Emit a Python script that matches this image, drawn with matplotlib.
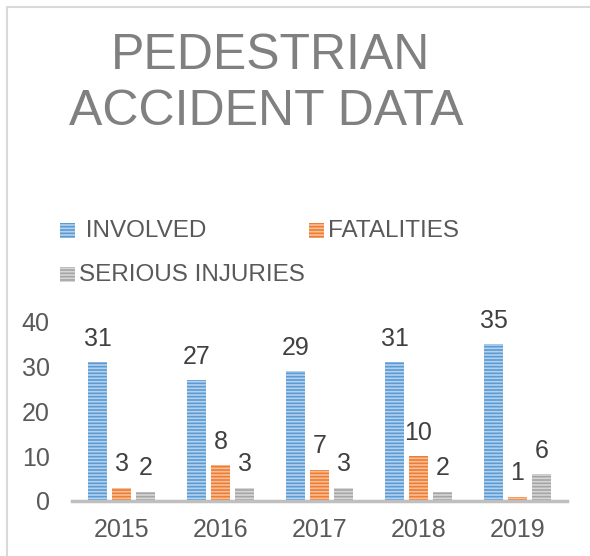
import numpy as np
import matplotlib.pyplot as plt
from matplotlib.patches import Rectangle

plt.rcParams['font.family'] = ['Liberation Sans', 'DejaVu Sans']
plt.rcParams['hatch.linewidth'] = 1.2

# chart data
years = ['2015', '2016', '2017', '2018', '2019']
involved = [31, 27, 29, 31, 35]
fatalities = [3, 8, 7, 10, 1]
serious = [2, 3, 3, 2, 6]

series_names = [' INVOLVED', 'FATALITIES', 'SERIOUS INJURIES']
series_colors = ['#5B9BD5', '#ED7D31', '#A5A5A5']
stripe_colors = ['#B4D2EE', '#F7BE99', '#D6D6D6']

fig = plt.figure(figsize=(5.9, 5.56), dpi=100)
W, H = 590, 556

# light frame around the chart (right and bottom run off the picture)
fig.add_artist(Rectangle((7 / W, -0.1), 1.2, 1 - 7 / H + 0.1, transform=fig.transFigure,
                         fill=False, edgecolor='#D9D9D9', linewidth=1.5))

fig.text(271 / W, 1 - 56 / H, 'PEDESTRIAN', ha='center', va='center',
         fontsize=36, color='#808080')
fig.text(266 / W, 1 - 112 / H, 'ACCIDENT DATA', ha='center', va='center',
         fontsize=36, color='#808080')

ax = fig.add_axes([72 / W, 1 - 501 / H, 495 / W, 179 / H])

x = np.arange(len(years))
w = 0.2
step = 0.243
allvals = [involved, fatalities, serious]
for i, vals in enumerate(allvals):
    ax.bar(x + (i - 1) * step, vals, w, color=series_colors[i],
           edgecolor=stripe_colors[i], linewidth=0, hatch='-----',
           label=series_names[i])
    for xi, v in zip(x + (i - 1) * step, vals):
        ax.text(xi, v + 2.6, str(v), ha='center', va='bottom', fontsize=18,
                color='#404040', clip_on=False)

ax.set_xlim(-0.5, 4.5)
ax.set_ylim(0, 40)
ax.set_yticks([0, 10, 20, 30, 40])
ax.set_xticks(x)
ax.set_xticklabels(years)
for s in ['top', 'right', 'left']:
    ax.spines[s].set_visible(False)
ax.spines['bottom'].set_color('#BFBFBF')
ax.spines['bottom'].set_linewidth(2.5)
ax.tick_params(axis='both', length=0, colors='#595959')
ax.tick_params(axis='y', labelsize=18, pad=16)
ax.tick_params(axis='x', labelsize=18, pad=12)

# legend in two rows like the original
leg_pos = [(60, 231), (309, 231), (60, 275)]
for i, (lx, ly) in enumerate(leg_pos):
    fig.add_artist(Rectangle((lx / W, 1 - (ly + 7) / H), 15 / W, 15 / H,
                             transform=fig.transFigure, facecolor=series_colors[i],
                             edgecolor=stripe_colors[i], linewidth=0, hatch='-----'))
    fig.text((lx + 19) / W, 1 - ly / H, series_names[i], ha='left', va='center',
             fontsize=17.5, color='#595959')

fig.savefig('out.png', dpi=100)
